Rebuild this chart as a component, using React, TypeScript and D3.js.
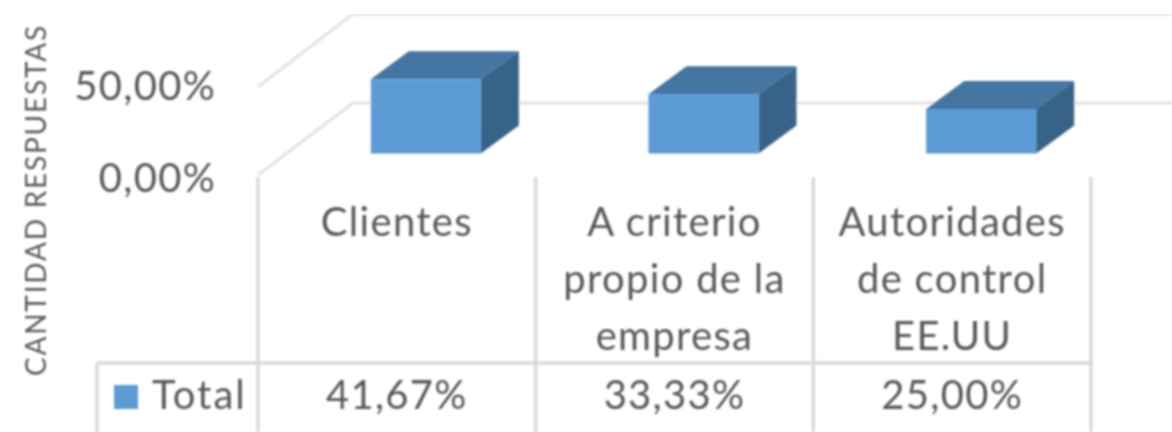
import React from "react";
import * as d3 from "d3";

const categories = [["Clientes"], ["A criterio", "propio de la", "empresa"], ["Autoridades", "de control", "EE.UU"]];
const values = [41.67, 33.33, 25.0];
const valueLabels = ["41,67%", "33,33%", "25,00%"];
const yTicks = [0, 50];
const yTickLabels = ["0,00%", "50,00%"];
const seriesName = "Total";
const axisTitle = "CANTIDAD RESPUESTAS";

const W = 1172, H = 432;
const DX = 38, DY = -28;
const FONT = "Lato, 'Open Sans', sans-serif";
const TEXT = "#595959", GRID = "#d9d9d9";
const GRID_LIGHT = "#e2e2e2";
const FRONT = "#5b9bd5", TOP = "#4475a1", SIDE = "#386389";
const FS = 40, LS = 1.3;

export default function App() {
  const y = d3.scaleLinear().domain([0, 50]).range([153.5, 64.5]);
  const band = d3.scaleBand<number>().domain([0, 1, 2]).range([258, 1091]);
  const tableTop = 363;
  const barW = 110;
  const backY = d3.scaleLinear().domain([0, 50]).range([103, 14]);
  const frontY = d3.scaleLinear().domain([0, 50]).range([175, 87]);
  const tickBaseline = d3.scaleLinear().domain([0, 50]).range([192, 100]);
  return (
    <svg width={W} height={H} style={{ position: "absolute", left: 0, top: 0, background: "#fff" }}>
      <defs>
        <filter id="soft" x="0" y="0" width="100%" height="100%">
          <feGaussianBlur stdDeviation="0.8" />
        </filter>
      </defs>
      <g filter="url(#soft)" fontFamily={FONT} letterSpacing={LS}>
        {yTicks.map((t) => (
          <path
            key={t}
            d={`M258,${frontY(t)}L353,${backY(t)}L${W},${backY(t)}`}
            fill="none"
            stroke={GRID_LIGHT}
            strokeWidth={3}
          />
        ))}
        {yTicks.map((t, i) => (
          <text key={t} x={216} y={tickBaseline(t)} textAnchor="end" fontSize={FS} fill={TEXT}>
            {yTickLabels[i]}
          </text>
        ))}
        <text
          transform="translate(46,200) rotate(-90)"
          textAnchor="middle"
          fontSize={28}
          letterSpacing={1.8}
          fill={TEXT}
        >
          {axisTitle}
        </text>
        {values.map((v, i) => {
          const x0 = band(i)! + (band.bandwidth() - barW) / 2 + 29;
          const x1 = x0 + barW;
          const yb = y(0), yt = y(v);
          return (
            <g key={i}>
              <path d={`M${x0},${yt}L${x0 + DX},${yt + DY}L${x1 + DX},${yt + DY}L${x1},${yt}Z`} fill={TOP} />
              <path d={`M${x1},${yt}L${x1 + DX},${yt + DY}L${x1 + DX},${yb + DY}L${x1},${yb}Z`} fill={SIDE} />
              <rect x={x0} y={yt} width={barW} height={yb - yt} fill={FRONT} />
            </g>
          );
        })}
        <path d={`M97,${tableTop}H1091`} stroke={GRID} strokeWidth={3.5} fill="none" />
        <path d={`M97,${tableTop}V${H}`} stroke={GRID} strokeWidth={3.5} fill="none" />
        {[0, 1, 2, 3].map((i) => {
          const x = i === 3 ? band.range()[1] : band(i)!;
          return <path key={i} d={`M${x},177V${H}`} stroke={GRID} strokeWidth={3.5} fill="none" />;
        })}
        {categories.map((lines, i) => (
          <text key={i} textAnchor="middle" fontSize={FS} fill={TEXT}>
            {lines.map((l, j) => (
              <tspan key={j} x={band(i)! + band.bandwidth() / 2} y={236 + j * 57}>
                {l}
              </tspan>
            ))}
          </text>
        ))}
        {valueLabels.map((l, i) => (
          <text key={i} x={band(i)! + band.bandwidth() / 2} y={409} textAnchor="middle" fontSize={FS} fill={TEXT}>
            {l}
          </text>
        ))}
        <rect x={114} y={385} width={24} height={24} fill={FRONT} />
        <text x={152} y={409} fontSize={FS} fill={TEXT} letterSpacing={2}>
          {seriesName}
        </text>
      </g>
    </svg>
  );
}
